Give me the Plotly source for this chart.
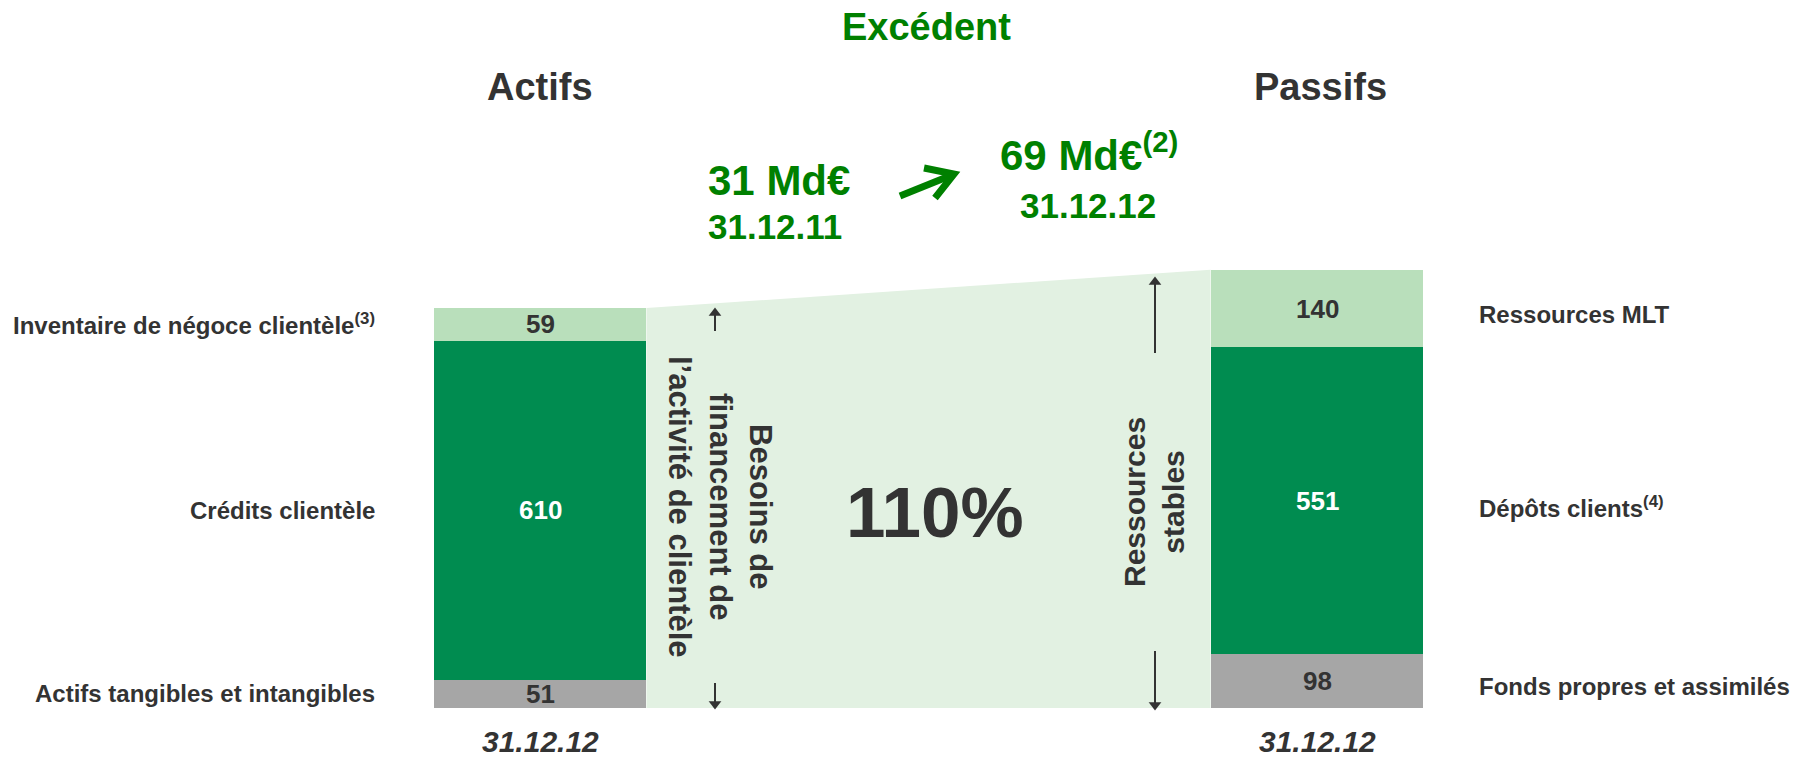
import plotly.graph_objects as go

# ---------------- data ----------------
columns = ["Actifs", "Passifs"]
segment_names_assets = ["Actifs tangibles et intangibles", "Crédits clientèle", "Inventaire de négoce clientèle<sup>(3)</sup>"]
segment_names_liab = ["Fonds propres et assimilés", "Dépôts clients<sup>(4)</sup>", "Ressources MLT"]
assets = [51, 610, 59]          # bottom -> top
liabilities = [98, 551, 140]    # bottom -> top
date_label = "31.12.12"
ratio_label = "110%"
surplus_before = "31 Md€"
surplus_before_date = "31.12.11"
surplus_after = "69 Md€<sup>(2)</sup>"
surplus_after_date = "31.12.12"

# ---------------- styles ----------------
W, H = 1800, 757
seg_colors = ["#a6a6a6", "#008c50", "#b9dfbb"]
val_colors = ["#333333", "#ffffff", "#333333"]
band_color = "#e2f1e2"
dark = "#333333"
green = "#008000"
FONT = "Liberation Sans, Arial, sans-serif"
NARROW = "Liberation Sans Narrow, Arial Narrow, Liberation Sans, Arial, sans-serif"
bar_w = 0.274
xs = [0, 1]


def P(x, y):
    return x / W, 1 - y / H


fig = go.Figure()

# band between the two columns
tot_a = sum(assets)
tot_l = sum(liabilities)
fig.add_trace(go.Scatter(
    x=[xs[0] + bar_w / 2, xs[0] + bar_w / 2, xs[1] - bar_w / 2, xs[1] - bar_w / 2],
    y=[0, tot_a, tot_l, 0],
    fill="toself", fillcolor=band_color, line=dict(width=0), mode="lines",
    hoverinfo="skip", showlegend=False))

# stacked bars
for i in range(3):
    fig.add_trace(go.Bar(
        x=xs, y=[assets[i], liabilities[i]], width=bar_w, textposition="none",
        marker=dict(color=seg_colors[i], line=dict(width=0)),
        showlegend=False, hoverinfo="skip"))

ann = []
# value labels and side labels
for side, vals, names in [(0, assets, segment_names_assets), (1, liabilities, segment_names_liab)]:
    base = 0
    for i, v in enumerate(vals):
        mid = base + v / 2
        ann.append(dict(x=xs[side], y=mid, xref="x", yref="y", text=f"<b>{v}</b>",
                        showarrow=False, font=dict(family=FONT, size=26, color=val_colors[i]),
                        xanchor="center", yanchor="middle"))
        if side == 0:
            ann.append(dict(x=377 / W, y=mid, xref="paper", yref="y", text=f"<b>{names[i]}</b>",
                            showarrow=False, font=dict(family=FONT, size=24, color=dark),
                            xanchor="right", yanchor="middle"))
        else:
            ann.append(dict(x=1477 / W, y=mid, xref="paper", yref="y", text=f"<b>{names[i]}</b>",
                            showarrow=False, font=dict(family=FONT, size=24, color=dark),
                            xanchor="left", yanchor="middle", yshift=-6))
        base += v

# dates under columns
for side in range(2):
    ann.append(dict(x=xs[side], y=P(0, 741)[1], xref="x", yref="paper",
                    text=f"<b><i>{date_label}</i></b>", showarrow=False,
                    font=dict(family=FONT, size=30, color=dark), xanchor="center", yanchor="middle"))


def txt(px, py, text, size, color, family=FONT, xanchor="center", angle=0):
    x, y = P(px, py)
    ann.append(dict(x=x, y=y, xref="paper", yref="paper", text=text, showarrow=False,
                    font=dict(family=family, size=size, color=color), xanchor=xanchor,
                    yanchor="middle", textangle=angle))


txt(926, 27, "<b>Excédent</b>", 38, green, NARROW)
txt(540, 87, f"<b>{columns[0]}</b>", 38, dark, NARROW)
txt(1320, 87, f"<b>{columns[1]}</b>", 38, dark, NARROW)
txt(706, 180, f"<b>{surplus_before}</b>", 42, green, xanchor="left")
txt(706, 226, f"<b>{surplus_before_date}</b>", 35, green, xanchor="left")
txt(998, 152, f"<b>{surplus_after}</b>", 42, green, xanchor="left")
txt(1088, 205, f"<b>{surplus_after_date}</b>", 35, green)
txt(935, 512, f"<b>{ratio_label}</b>", 71, dark)
txt(720, 507, "<b>Besoins de<br>financement de<br>l’activité de clientèle</b>", 31, dark, angle=90)
txt(1154, 502, "<b>Ressources<br>stables</b>", 30, dark, angle=-90)


# decorative arrows drawn on a pixel-space overlay axis
def poly(xp, yp, color, width):
    fig.add_trace(go.Scatter(
        x=xp, y=yp, xaxis="x2", yaxis="y2", mode="lines",
        line=dict(color=color, width=width), hoverinfo="skip", showlegend=False))


def varrow(px, y_from, y_tip):
    up = y_tip < y_from
    poly([px, px], [y_from, y_tip + (6 if up else -6)], dark, 2)
    fig.add_trace(go.Scatter(
        x=[px], y=[y_tip + (5 if up else -5)], xaxis="x2", yaxis="y2", mode="markers",
        marker=dict(symbol="triangle-up" if up else "triangle-down", size=11, color=dark,
                    line=dict(width=0)),
        hoverinfo="skip", showlegend=False))


# green chevron arrow
poly([900, 952], [196, 175], green, 7)
poly([924, 954, 935], [168, 174, 198], green, 7)

varrow(715, 331, 308)
varrow(715, 683, 709)
varrow(1155, 353, 277)
varrow(1155, 651, 710)

fig.update_layout(
    width=W, height=H, margin=dict(l=0, r=0, t=0, b=0),
    paper_bgcolor="white", plot_bgcolor="white",
    barmode="stack", bargap=0,
    xaxis=dict(range=[-540 / 777, (W - 540) / 777], visible=False, fixedrange=True),
    yaxis=dict(range=[-(H - 708) / 0.5555, 708 / 0.5555], visible=False, fixedrange=True),
    xaxis2=dict(range=[0, W], visible=False, fixedrange=True, overlaying="x", anchor="y2"),
    yaxis2=dict(range=[H, 0], visible=False, fixedrange=True, overlaying="y", anchor="x2"),
    annotations=ann, showlegend=False,
)

fig.write_html("out.html")
